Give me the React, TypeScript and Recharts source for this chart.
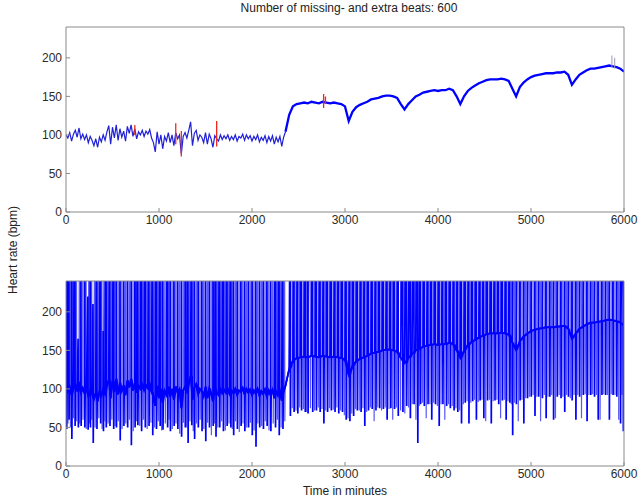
import { LineChart, Line, XAxis, YAxis } from 'recharts';

const TITLE = 'Number of missing- and extra beats: 600';
const X_LABEL = 'Time in minutes';
const Y_LABEL = 'Heart rate (bpm)';
const X_TICKS = [0, 1000, 2000, 3000, 4000, 5000, 6000];
const Y_TICKS = [0, 50, 100, 150, 200];

// corrected heart rate, 0..2360 min, one value every 20 min
const EARLY_STEP = 20;
const earlyHr = [
  100, 96, 103, 92, 101, 106, 97, 109, 95, 101,
  94, 100, 90, 98, 93, 86, 95, 84, 97, 91,
  100, 93, 104, 112, 88, 110, 96, 113, 93, 108,
  97, 105, 92, 111, 102, 113, 98, 108, 95, 104,
  100, 106, 98, 105, 101, 107, 96, 90, 78, 104,
  88, 100, 82, 98, 92, 103, 90, 100, 86, 103,
  95, 100, 75, 98, 103, 96, 106, 117, 86, 102,
  106, 93, 100, 97, 90, 103, 88, 101, 95, 84,
  99, 95, 92, 100, 94, 99, 95, 100, 93, 98,
  94, 100, 92, 98, 96, 101, 93, 100, 95, 99,
  92, 98, 94, 100, 91, 97, 93, 99, 90, 98,
  92, 99, 88, 97, 91, 98, 85, 97, 104,
];

// corrected heart rate, 2360..6000 min, one value every 40 min
const LATE_START = 2360;
const LATE_STEP = 40;
const lateHr = [
  104, 126, 137, 140, 141, 142, 141, 143, 142, 141,
  143, 142, 141, 142, 141, 140, 137, 118, 130, 136,
  139, 141, 143, 146, 147, 148, 150, 151, 151, 150,
  148, 140, 133, 140, 145, 150, 152, 155, 156, 157,
  158, 157, 158, 158, 160, 158, 150, 140, 150, 157,
  161, 164, 167, 169, 171, 172, 172, 172, 173, 172,
  170, 160, 150, 162, 168, 172, 175, 177, 178, 179,
  180, 180, 180, 181, 181, 182, 178, 165, 172, 178,
  181, 184, 186, 186, 187, 188, 189, 190, 189, 188,
  186, 182,
];

// corrected beats shown in red: [minute, low, high]
const redMarks = [
  [740, 100, 113], [1180, 88, 115], [1240, 72, 105],
  [1620, 85, 118], [2770, 135, 153], [2790, 140, 150],
];
const grayMarks = [[5870, 188, 203], [5900, 186, 200]];

// raw artefacts in the lower plot, strong strokes: [minute, peak, trough]
const beatEvents = [
  [5, 400, 48], [30, 400, 60], [60, 400, 35], [95, 400, 52], [130, 165, 50], [160, 400, 52],
  [200, 400, 50], [235, 220, 47], [260, 400, 50], [290, 210, 30], [330, 400, 48], [370, 400, 55],
  [400, 175, 45], [430, 400, 50], [470, 400, 52], [510, 400, 48], [540, 400, 50], [580, 400, 33],
  [620, 400, 52], [660, 400, 50], [700, 400, 27], [740, 400, 50], [770, 400, 53], [810, 400, 45],
  [850, 400, 50], [890, 400, 52], [930, 400, 40], [970, 400, 48], [1010, 400, 52], [1040, 400, 47],
  [1090, 400, 50], [1120, 400, 45], [1160, 400, 52], [1200, 400, 48], [1240, 400, 38], [1280, 400, 50],
  [1310, 400, 30], [1350, 400, 53], [1380, 400, 35], [1420, 400, 50], [1460, 400, 45], [1500, 400, 32],
  [1540, 400, 50], [1580, 400, 52], [1610, 400, 38], [1650, 400, 50], [1690, 400, 45], [1730, 400, 52],
  [1770, 400, 50], [1800, 400, 40], [1840, 400, 48], [1880, 400, 52], [1920, 400, 45], [1960, 400, 50],
  [2000, 400, 40], [2040, 400, 25], [2080, 400, 50], [2120, 400, 48], [2160, 400, 52], [2200, 400, 45],
  [2250, 400, 50], [2290, 400, 40], [2330, 400, 48],
  [2410, 400, 65], [2450, 400, 70], [2490, 400, 68], [2530, 400, 72], [2570, 400, 70], [2600, 400, 68],
  [2650, 400, 70], [2690, 400, 72], [2730, 400, 70], [2770, 400, 55], [2810, 400, 70], [2850, 400, 72],
  [2890, 400, 70], [2930, 400, 68], [2970, 400, 70], [3010, 400, 60], [3050, 400, 58], [3090, 400, 65],
  [3130, 400, 72], [3170, 400, 70], [3210, 400, 52], [3250, 400, 72], [3290, 400, 74], [3330, 400, 72],
  [3370, 400, 75], [3410, 400, 74], [3450, 400, 60], [3490, 400, 75], [3530, 400, 74], [3570, 400, 65],
  [3620, 400, 70], [3660, 400, 78], [3700, 400, 62], [3740, 400, 80], [3780, 400, 30], [3810, 400, 80],
  [3850, 400, 78], [3890, 400, 80], [3930, 400, 60], [3970, 400, 80], [4010, 400, 52], [4050, 400, 80],
  [4090, 400, 78], [4130, 400, 75], [4170, 400, 72], [4210, 400, 70], [4250, 400, 55], [4290, 400, 82],
  [4330, 400, 55], [4370, 400, 84], [4410, 400, 60], [4450, 400, 85], [4490, 400, 62], [4530, 400, 85],
  [4570, 400, 55], [4610, 400, 85], [4650, 400, 80], [4690, 400, 85], [4730, 400, 60], [4770, 400, 82],
  [4800, 400, 40], [4840, 400, 80], [4880, 400, 85], [4920, 400, 55], [4960, 400, 88], [5000, 400, 90],
  [5040, 400, 65], [5080, 400, 90], [5120, 400, 88], [5160, 400, 62], [5200, 400, 90], [5240, 400, 60],
  [5280, 400, 90], [5320, 400, 88], [5360, 400, 70], [5400, 400, 90], [5440, 400, 85], [5480, 400, 60],
  [5520, 400, 90], [5560, 400, 92], [5600, 400, 58], [5640, 400, 92], [5680, 400, 90], [5720, 400, 60],
  [5760, 400, 92], [5800, 400, 92], [5840, 400, 60], [5880, 400, 92], [5920, 400, 90], [5960, 400, 55],
  [5990, 400, 45],
];

// raw artefacts drawn as faint strokes: [minute, peak, trough]
const faintEvents = [
  [18, 400, 55], [45, 400, 50], [78, 400, 62], [112, 400, 58], [145, 400, 55], [180, 400, 60],
  [215, 400, 48], [248, 400, 55], [275, 400, 60], [310, 400, 50], [350, 400, 62], [385, 400, 48],
  [415, 400, 58], [450, 400, 55], [490, 400, 60], [525, 400, 52], [560, 400, 58], [600, 400, 48],
  [640, 400, 55], [680, 400, 60], [720, 400, 45], [755, 400, 58], [790, 400, 52], [830, 400, 60],
  [870, 400, 48], [910, 400, 56], [950, 400, 50], [990, 400, 58], [1025, 400, 46], [1065, 400, 55],
  [1105, 400, 60], [1140, 400, 48], [1180, 400, 55], [1220, 400, 42], [1260, 400, 56], [1295, 400, 50],
  [1330, 400, 58], [1365, 400, 45], [1400, 400, 55], [1440, 400, 60], [1480, 400, 48], [1520, 400, 56],
  [1560, 400, 40], [1595, 400, 55], [1630, 400, 50], [1670, 400, 58], [1710, 400, 46], [1750, 400, 55],
  [1785, 400, 48], [1820, 400, 58], [1860, 400, 44], [1900, 400, 55], [1940, 400, 50], [1980, 400, 56],
  [2020, 400, 46], [2060, 400, 55], [2100, 400, 52], [2140, 400, 58], [2180, 400, 46], [2225, 400, 55],
  [2270, 400, 60], [2310, 400, 50], [2350, 400, 58],
  [2430, 400, 75], [2470, 400, 72], [2510, 400, 76], [2550, 400, 74], [2585, 400, 70], [2625, 400, 75],
  [2670, 400, 72], [2710, 400, 76], [2750, 400, 74], [2790, 400, 72], [2830, 400, 75], [2870, 400, 73],
  [2910, 400, 76], [2950, 400, 72], [2990, 400, 66], [3030, 400, 62], [3070, 400, 68], [3110, 400, 74],
  [3150, 400, 72], [3190, 400, 75], [3230, 400, 70], [3270, 400, 76], [3310, 400, 58], [3350, 400, 76],
  [3390, 400, 72], [3430, 400, 76], [3470, 400, 74], [3510, 400, 60], [3550, 400, 76], [3595, 400, 72],
  [3640, 400, 68], [3680, 400, 76], [3720, 400, 80], [3760, 400, 60], [3795, 400, 78], [3830, 400, 82],
  [3870, 400, 62], [3910, 400, 80], [3950, 400, 82], [3990, 400, 78], [4030, 400, 80], [4070, 400, 60],
  [4110, 400, 80], [4150, 400, 78], [4190, 400, 75], [4230, 400, 72], [4270, 400, 80], [4310, 400, 84],
  [4350, 400, 82], [4390, 400, 86], [4430, 400, 83], [4470, 400, 86], [4510, 400, 58], [4550, 400, 86],
  [4590, 400, 84], [4630, 400, 86], [4670, 400, 62], [4710, 400, 86], [4750, 400, 84], [4785, 400, 80],
  [4820, 400, 82], [4860, 400, 58], [4900, 400, 86], [4940, 400, 88], [4980, 400, 90], [5020, 400, 92],
  [5060, 400, 90], [5100, 400, 58], [5140, 400, 92], [5180, 400, 90], [5220, 400, 92], [5260, 400, 62],
  [5300, 400, 92], [5340, 400, 90], [5380, 400, 92], [5420, 400, 88], [5460, 400, 92], [5500, 400, 92],
  [5540, 400, 62], [5580, 400, 93], [5620, 400, 92], [5660, 400, 93], [5700, 400, 92], [5740, 400, 60],
  [5780, 400, 93], [5820, 400, 92], [5860, 400, 93], [5900, 400, 92], [5940, 400, 60], [5975, 400, 92],
];

const earlyRows = earlyHr.map((v, i) => ({ t: i * EARLY_STEP, v }));
const lateRows = lateHr.map((v, i) => ({ t: LATE_START + i * LATE_STEP, v }));
const baseRows = [...earlyRows, ...lateRows.slice(1)];

// nearest recorded sample, used to bring a spike back to the trace
const baseAt = (t: number) =>
  baseRows.reduce((best, r) => (Math.abs(r.t - t) < Math.abs(best.t - t) ? r : best)).v;

const segRows = (marks: number[][]) =>
  marks.flatMap(([t, lo, hi]) => [{ t, v: lo }, { t, v: hi }, { t, v: null as number | null }]);

const spikeRows = (events: number[][]) =>
  [
    ...baseRows,
    ...events.flatMap(([t, hi, lo]) => [
      { t, v: hi },
      { t: t + 3, v: lo },
      { t: t + 6, v: baseAt(t) },
    ]),
  ].sort((a, b) => a.t - b.t);

const strongRows = spikeRows(beatEvents);
const faintRows = spikeRows(faintEvents);

const FONT = '"Liberation Sans", Arial, sans-serif';
const axisStroke = '#8a8a8a';
const tickStyle = { fontSize: 12, fill: '#2b2b2b', fontFamily: FONT };
const BLUE = '#0000ff';

function frame() {
  return [
    <XAxis key="xb" xAxisId="b" dataKey="t" type="number" domain={[0, 6000]} ticks={X_TICKS}
      interval={0} allowDataOverflow stroke={axisStroke} tickSize={-4} tickMargin={7}
      height={20} tick={tickStyle} />,
    <XAxis key="xt" xAxisId="t" orientation="top" type="number" domain={[0, 6000]} ticks={X_TICKS}
      interval={0} allowDataOverflow stroke={axisStroke} tickSize={-4} tick={false} height={5} />,
    <YAxis key="yl" yAxisId="l" type="number" domain={[0, 240]} ticks={Y_TICKS} interval={0}
      allowDataOverflow stroke={axisStroke} tickSize={-4} tickMargin={8} width={40} tick={tickStyle} />,
    <YAxis key="yr" yAxisId="r" orientation="right" type="number" domain={[0, 240]} ticks={Y_TICKS}
      interval={0} allowDataOverflow stroke={axisStroke} tickSize={-4} tick={false} width={5} />,
  ];
}

export default function App() {
  return (
    <div style={{ position: 'absolute', left: 0, top: 0, width: 638, height: 501, background: '#fff', fontFamily: FONT }}>
      <div style={{ position: 'absolute', left: 149, top: 1, width: 400, textAlign: 'center', fontSize: 12, lineHeight: '14px', color: '#222' }}>
        {TITLE}
      </div>
      <div style={{ position: 'absolute', left: 0, top: 0, width: 638, height: 250 }}>
        <LineChart width={638} height={250} margin={{ top: 22, right: 9, bottom: 18, left: 26 }}>
          {frame()}
          <Line xAxisId="b" yAxisId="l" data={earlyRows} dataKey="v" type="linear" stroke="#2020d8"
            strokeWidth={1.2} dot={false} isAnimationActive={false} />
          <Line xAxisId="b" yAxisId="l" data={lateRows} dataKey="v" type="linear" stroke={BLUE}
            strokeWidth={2.3} dot={false} isAnimationActive={false} />
          <Line xAxisId="b" yAxisId="l" data={segRows(redMarks)} dataKey="v" type="linear" stroke="#ee2a1a"
            strokeWidth={1.3} dot={false} isAnimationActive={false} />
          <Line xAxisId="b" yAxisId="l" data={segRows(grayMarks)} dataKey="v" type="linear" stroke="#9a9ab0"
            strokeWidth={1} dot={false} isAnimationActive={false} />
        </LineChart>
      </div>
      <div style={{ position: 'absolute', left: 0, top: 250, width: 638, height: 251 }}>
        <LineChart width={638} height={251} margin={{ top: 26, right: 9, bottom: 15, left: 26 }}>
          {frame()}
          <Line xAxisId="b" yAxisId="l" data={faintRows} dataKey="v" type="linear" stroke="#5a5af2"
            strokeWidth={1.2} dot={false} isAnimationActive={false} />
          <Line xAxisId="b" yAxisId="l" data={strongRows} dataKey="v" type="linear" stroke={BLUE}
            strokeWidth={1.7} dot={false} isAnimationActive={false} />
          <Line xAxisId="b" yAxisId="l" data={baseRows} dataKey="v" type="linear" stroke={BLUE}
            strokeWidth={1.8} dot={false} isAnimationActive={false} />
        </LineChart>
      </div>
      <div style={{ position: 'absolute', left: 245, top: 484, width: 200, textAlign: 'center', fontSize: 12, lineHeight: '14px', color: '#222' }}>
        {X_LABEL}
      </div>
      <div style={{ position: 'absolute', left: 13 - 60, top: 250 - 7, width: 120, textAlign: 'center', fontSize: 12, lineHeight: '14px', color: '#222', transform: 'rotate(-90deg)' }}>
        {Y_LABEL}
      </div>
    </div>
  );
}
